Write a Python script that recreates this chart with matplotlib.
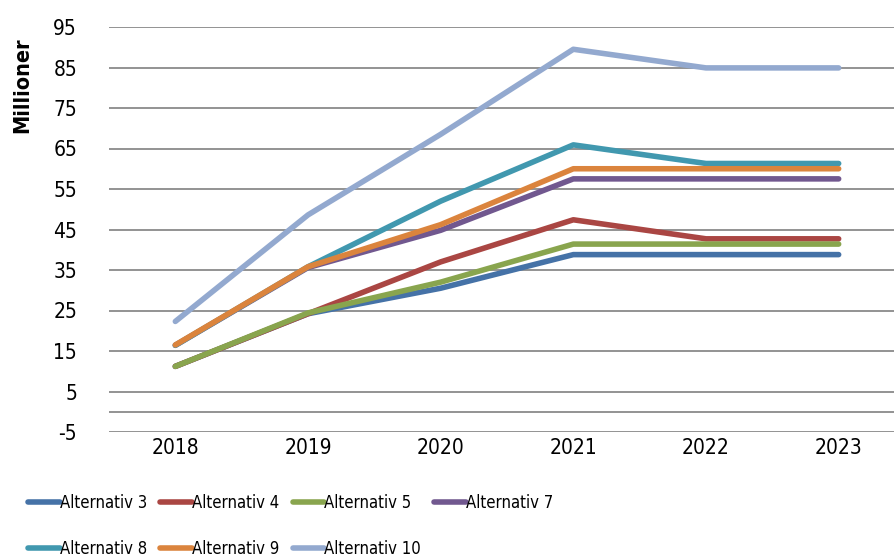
import matplotlib.pyplot as plt

plt.rcParams['font.family'] = ['DejaVu Sans']
plt.rcParams['font.stretch'] = 'condensed'

years = ['2018', '2019', '2020', '2021', '2022', '2023']
names = ['Alternativ 3', 'Alternativ 4', 'Alternativ 5', 'Alternativ 7',
         'Alternativ 8', 'Alternativ 9', 'Alternativ 10']

alt3 = [11.2, 24.2, 30.5, 38.8, 38.8, 38.8]
alt4 = [11.2, 24.2, 37.0, 47.4, 42.7, 42.7]
alt5 = [11.2, 24.4, 32.0, 41.4, 41.4, 41.4]
alt7 = [16.4, 35.6, 44.8, 57.5, 57.5, 57.5]
alt8 = [16.4, 35.8, 52.0, 65.9, 61.3, 61.3]
alt9 = [16.5, 35.8, 46.2, 60.0, 60.0, 60.0]
alt10 = [22.3, 48.6, 68.5, 89.5, 84.9, 84.9]

colors = ['#4572A7', '#AA4643', '#89A54E', '#71588F', '#4198AF', '#DB843D', '#93A9CF']

fig = plt.figure(figsize=(8.95, 5.6), dpi=100)
ax = fig.add_axes([109 / 895, 1 - 432 / 560, 796 / 895, 405 / 560])

# gridlines every 10 from -5 to 95, plus the category axis at 0
yticks = list(range(-5, 96, 10))
for y in yticks:
    ax.axhline(y, color='#939393', lw=1.4, zorder=1)
ax.axhline(0, color='#939393', lw=1.4, zorder=1)

x = list(range(len(years)))
series = [alt3, alt4, alt5, alt7, alt8, alt9, alt10]
handles = []
for vals, name, c in zip(series, names, colors):
    h, = ax.plot(x, vals, color=c, lw=4.0, solid_capstyle='round',
                 solid_joinstyle='round', label=name, zorder=3)
    handles.append(h)

ax.set_xlim(-0.5, 5.5)
ax.set_ylim(-5, 95)
ax.set_yticks(yticks)
ax.set_yticklabels([str(v) for v in yticks])
ax.set_xticks(x)
ax.set_xticklabels(years)
ax.tick_params(axis='y', length=0, pad=23, labelsize=15)
ax.tick_params(axis='x', length=0, pad=4, labelsize=15)
for s in ax.spines.values():
    s.set_visible(False)

fig.text(22 / 895, 1 - 85 / 560, 'Millioner', rotation=90, fontsize=15.5,
         fontweight='bold', ha='center', va='center')

# column-first order so that rows read A3 A4 A5 A7 / A8 A9 A10
order = [0, 4, 1, 5, 2, 6, 3]
fig.legend([handles[i] for i in order], [names[i] for i in order],
           loc='upper left', bbox_to_anchor=(28 / 895, 1 - 494 / 560),
           ncol=4, frameon=False, fontsize=12, handlelength=1.9,
           handletextpad=0.0, columnspacing=0.8, labelspacing=1.65,
           borderpad=0, borderaxespad=0)

fig.savefig('out.png', dpi=100)
